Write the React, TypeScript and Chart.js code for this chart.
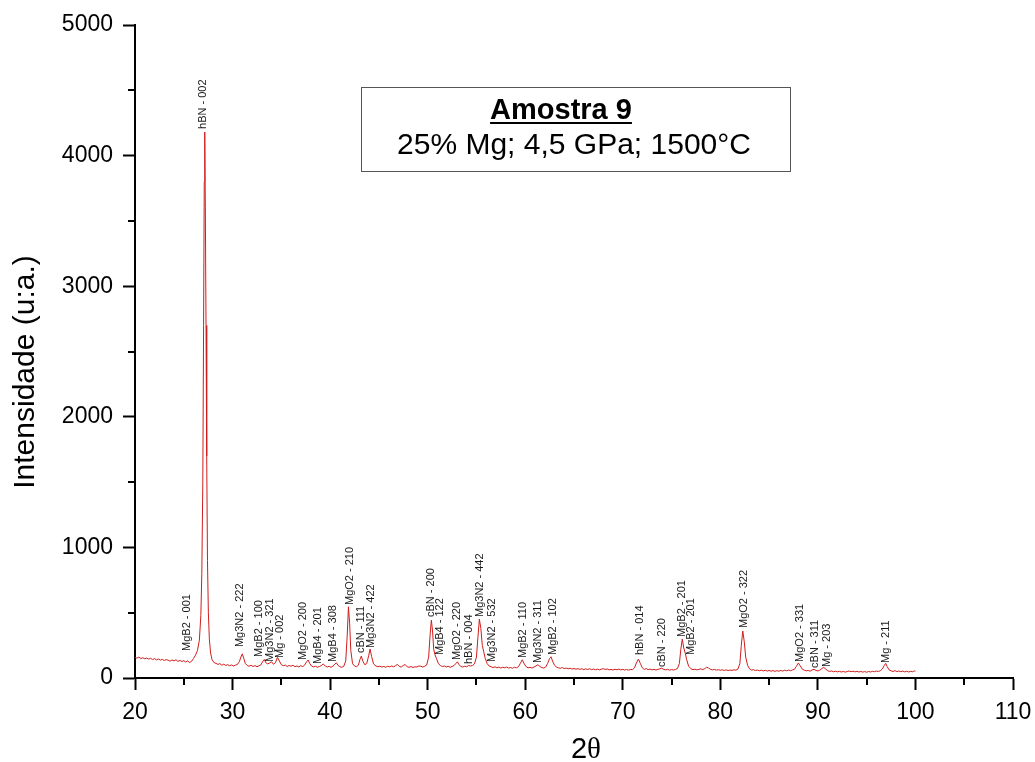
import React, { useEffect, useRef } from "react";
import { Chart, registerables } from "chart.js";

Chart.register(...registerables);

// Diffractogram: 2θ (degrees) and measured intensity (u.a.)
const twoTheta: number[] = [
  20.0, 20.2, 20.4, 20.6, 20.8, 21.0, 21.2, 21.4, 21.6, 21.8, 22.0, 22.2, 22.4, 22.6, 22.8,
  23.0, 23.2, 23.4, 23.6, 23.8, 24.0, 24.2, 24.4, 24.6, 24.8, 25.0, 25.2, 25.4, 25.6, 25.8,
  26.0, 26.2, 26.4, 26.6, 26.75, 26.85, 26.95, 27.03, 27.1, 27.15, 27.21, 27.28, 27.35, 27.43, 27.52,
  27.62, 27.75, 27.9, 28.1, 28.3, 28.5, 28.7, 28.9, 29.1, 29.3, 29.5, 29.7, 29.9, 30.1, 30.3,
  30.5, 30.7, 30.85, 31.0, 31.15, 31.3, 31.5, 31.7, 31.9, 32.1, 32.3, 32.5, 32.7, 32.9, 33.1,
  33.25, 33.4, 33.6, 33.8, 34.0, 34.2, 34.4, 34.6, 34.8, 35.0, 35.2, 35.4, 35.6, 35.8, 36.0,
  36.2, 36.4, 36.6, 36.8, 37.0, 37.2, 37.4, 37.6, 37.75, 37.9, 38.1, 38.3, 38.5, 38.7, 38.9,
  39.1, 39.3, 39.5, 39.7, 39.9, 40.1, 40.3, 40.5, 40.65, 40.8, 41.0, 41.2, 41.4, 41.6, 41.75,
  41.88, 42.0, 42.12, 42.3, 42.5, 42.7, 42.9, 43.05, 43.2, 43.35, 43.55, 43.75, 43.95, 44.1, 44.25,
  44.45, 44.7, 44.9, 45.1, 45.3, 45.5, 45.7, 45.9, 46.1, 46.3, 46.5, 46.7, 46.9, 47.1, 47.3,
  47.5, 47.7, 47.9, 48.1, 48.3, 48.5, 48.7, 48.9, 49.1, 49.3, 49.5, 49.7, 49.9, 50.1, 50.25,
  50.38, 50.5, 50.62, 50.75, 50.9, 51.1, 51.3, 51.5, 51.7, 51.9, 52.1, 52.3, 52.5, 52.7, 52.9,
  53.05, 53.2, 53.4, 53.6, 53.8, 54.0, 54.2, 54.4, 54.6, 54.8, 55.0, 55.15, 55.3, 55.45, 55.6,
  55.75, 55.9, 56.1, 56.3, 56.5, 56.7, 56.9, 57.1, 57.3, 57.5, 57.7, 57.9, 58.1, 58.3, 58.5,
  58.7, 58.9, 59.1, 59.3, 59.5, 59.7, 59.9, 60.1, 60.3, 60.5, 60.7, 60.9, 61.1, 61.3, 61.5,
  61.7, 61.9, 62.1, 62.3, 62.5, 62.65, 62.8, 63.0, 63.2, 63.4, 63.6, 63.8, 64.0, 64.2, 64.4,
  64.6, 64.8, 65.0, 65.2, 65.4, 65.6, 65.8, 66.0, 66.2, 66.4, 66.6, 66.8, 67.0, 67.2, 67.4,
  67.6, 67.8, 68.0, 68.2, 68.4, 68.6, 68.8, 69.0, 69.2, 69.4, 69.6, 69.8, 70.0, 70.2, 70.4,
  70.6, 70.8, 71.0, 71.2, 71.4, 71.6, 71.8, 72.0, 72.2, 72.4, 72.6, 72.8, 73.0, 73.2, 73.4,
  73.6, 73.8, 74.0, 74.2, 74.4, 74.6, 74.8, 75.0, 75.2, 75.4, 75.6, 75.8, 75.95, 76.1, 76.25,
  76.4, 76.55, 76.75, 77.0, 77.2, 77.4, 77.6, 77.8, 78.0, 78.2, 78.4, 78.6, 78.8, 79.0, 79.2,
  79.4, 79.6, 79.8, 80.0, 80.2, 80.4, 80.6, 80.8, 81.0, 81.2, 81.4, 81.6, 81.8, 82.0, 82.15,
  82.3, 82.45, 82.6, 82.8, 83.0, 83.2, 83.4, 83.6, 83.8, 84.0, 84.2, 84.4, 84.6, 84.8, 85.0,
  85.2, 85.4, 85.6, 85.8, 86.0, 86.2, 86.4, 86.6, 86.8, 87.0, 87.2, 87.4, 87.6, 87.8, 88.0,
  88.2, 88.4, 88.6, 88.8, 89.0, 89.2, 89.4, 89.6, 89.8, 90.0, 90.2, 90.4, 90.6, 90.8, 91.0,
  91.2, 91.4, 91.6, 91.8, 92.0, 92.2, 92.4, 92.6, 92.8, 93.0, 93.2, 93.4, 93.6, 93.8, 94.0,
  94.2, 94.4, 94.6, 94.8, 95.0, 95.2, 95.4, 95.6, 95.8, 96.0, 96.2, 96.4, 96.6, 96.8, 96.95,
  97.1, 97.3, 97.5, 97.7, 97.9, 98.1, 98.3, 98.5, 98.7, 98.9, 99.1, 99.3, 99.5, 99.7, 99.9,
  100.0,
];

const intensity: number[] = [
  158, 152, 160, 149, 155, 147, 153, 145, 151, 141, 148, 139, 146, 137, 143,
  134, 141, 136, 129, 138, 131, 140, 127, 135, 126, 133, 122, 131, 118, 128,
  150, 175, 210, 290, 480, 800, 1500, 2700, 3800, 4180, 3600, 2700, 1700, 900, 500,
  300, 190, 140, 118, 112, 104, 110, 98, 106, 96, 102, 94, 100, 92, 98,
  104, 125, 160, 185, 150, 112, 96, 90, 98, 88, 95, 86, 93, 100, 128,
  142, 118, 108, 115, 124, 105, 118, 158, 130, 102, 94, 99, 88, 96, 90,
  98, 86, 92, 84, 95, 87, 100, 125, 138, 112, 92, 85, 90, 82, 88,
  95, 108, 92, 84, 89, 82, 92, 108, 116, 98, 86, 82, 90, 130, 320,
  545, 420, 210, 110, 92, 86, 98, 140, 168, 130, 102, 110, 170, 222, 165,
  108, 92, 86, 90, 84, 88, 82, 90, 85, 92, 86, 94, 104, 88, 84,
  96, 103, 86, 82, 88, 80, 86, 84, 92, 90, 84, 90, 100, 160, 330,
  443, 360, 220, 178, 150, 110, 96, 88, 92, 84, 90, 82, 88, 95, 112,
  124, 104, 88, 84, 90, 86, 96, 92, 96, 108, 160, 310, 451, 380, 250,
  200, 150, 110, 92, 86, 80, 86, 78, 84, 76, 82, 78, 84, 76, 80,
  75, 82, 78, 86, 112, 140, 108, 86, 78, 82, 76, 84, 92, 102, 88,
  80, 76, 84, 112, 150, 162, 130, 98, 84, 78, 74, 80, 72, 76, 70,
  75, 68, 73, 67, 72, 66, 71, 64, 70, 65, 71, 64, 69, 63, 68,
  62, 67, 72, 65, 69, 62, 66, 61, 67, 63, 68, 62, 66, 61, 65,
  60, 66, 64, 78, 115, 145, 112, 78, 66, 72, 64, 68, 62, 67, 61,
  66, 70, 75, 66, 62, 66, 60, 65, 61, 66, 72, 110, 220, 298, 230,
  192, 140, 90, 70, 64, 68, 62, 66, 70, 64, 72, 82, 76, 66, 62,
  66, 60, 64, 59, 63, 58, 62, 57, 61, 58, 63, 60, 68, 110, 250,
  360, 280, 160, 96, 70, 60, 64, 57, 61, 55, 60, 54, 59, 53, 58,
  52, 57, 51, 56, 52, 58, 53, 60, 55, 61, 56, 62, 66, 90, 115,
  92, 68, 60, 55, 58, 52, 62, 66, 58, 54, 60, 72, 82, 68, 56,
  50, 54, 48, 52, 47, 51, 46, 50, 45, 49, 54, 48, 52, 47, 51,
  46, 50, 45, 49, 44, 50, 46, 51, 48, 53, 50, 56, 68, 95, 112,
  88, 62, 55, 50, 56, 49, 54, 48, 53, 47, 52, 46, 51, 48, 54,
  52,
];

// Phase / reflection annotations: label, 2θ position and intensity where the label starts
const peakNames: string[] = [
  "MgB2 - 001", "hBN - 002", "Mg3N2 - 222", "MgB2 - 100", "Mg3N2 - 321", "Mg - 002",
  "MgO2 - 200", "MgB4 - 201", "MgB4 - 308", "MgO2 - 210", "cBN - 111", "Mg3N2 - 422",
  "cBN - 200", "MgB4 - 122", "MgO2 - 220", "hBN - 004", "Mg3N2 - 442", "Mg3N2 - 532",
  "MgB2 - 110", "Mg3N2 - 311", "MgB2 - 102", "hBN - 014", "cBN - 220", "MgB2 - 201",
  "MgB2 - 201", "MgO2 - 322", "MgO2 - 331", "cBN - 311", "Mg - 203", "Mg - 211",
];
const peakTheta: number[] = [
  25.34, 26.98, 30.78, 32.73, 33.85, 34.88,
  37.24, 38.78, 40.32, 42.06, 43.19, 44.22,
  50.38, 51.30, 53.05, 54.28, 55.41, 56.64,
  59.72, 61.26, 62.80, 71.72, 73.98, 76.03,
  76.96, 82.40, 88.14, 89.68, 90.91, 96.97,
];
const peakLabelAt: number[] = [
  207, 4204, 237, 161, 123, 153,
  138, 107, 123, 559, 191, 230,
  467, 176, 138, 107, 467, 123,
  153, 115, 176, 176, 84, 314,
  176, 383, 123, 77, 84, 115,
];

const xTickValues: number[] = [20, 30, 40, 50, 60, 70, 80, 90, 100, 110];
const yTickValues: number[] = [0, 1000, 2000, 3000, 4000, 5000];

const sampleTitle = "Amostra 9";
const sampleConditions = "25% Mg; 4,5 GPa; 1500°C";
const yAxisTitle = "Intensidade (u:a.)";

const SANS = '"Liberation Sans", Arial, sans-serif';
const SERIF = '"Liberation Serif", "DejaVu Serif", serif';

const decorations = {
  id: "xrdDecorations",
  afterDraw(chart: any) {
    const { ctx, chartArea, scales } = chart;
    const xs = scales.x;
    const ys = scales.y;
    ctx.save();

    // minor ticks halfway between the major ones
    ctx.strokeStyle = "#000";
    ctx.lineWidth = 2;
    ctx.beginPath();
    for (let i = 0; i < yTickValues.length - 1; i++) {
      const v = (yTickValues[i] + yTickValues[i + 1]) / 2;
      const py = Math.round(ys.getPixelForValue(v));
      ctx.moveTo(chartArea.left - 7, py);
      ctx.lineTo(chartArea.left, py);
    }
    for (let i = 0; i < xTickValues.length - 1; i++) {
      const v = (xTickValues[i] + xTickValues[i + 1]) / 2;
      const px = Math.round(xs.getPixelForValue(v));
      ctx.moveTo(px, chartArea.bottom);
      ctx.lineTo(px, chartArea.bottom + 7);
    }
    ctx.stroke();

    // reflection labels, written vertically upwards
    ctx.fillStyle = "#1a1a1a";
    ctx.font = `11px ${SANS}`;
    ctx.textAlign = "left";
    ctx.textBaseline = "middle";
    for (let i = 0; i < peakNames.length; i++) {
      const px = xs.getPixelForValue(peakTheta[i]);
      const py = ys.getPixelForValue(peakLabelAt[i]);
      ctx.save();
      ctx.translate(px, py);
      ctx.rotate(-Math.PI / 2);
      ctx.fillText(peakNames[i], 0, 0);
      ctx.restore();
    }

    // sample box
    ctx.strokeStyle = "#555";
    ctx.lineWidth = 1;
    ctx.strokeRect(361.5, 87.5, 429, 84);
    ctx.fillStyle = "#000";
    ctx.textAlign = "center";
    ctx.textBaseline = "alphabetic";
    ctx.font = `bold 29px ${SANS}`;
    ctx.fillText(sampleTitle, 561, 119);
    const tw = ctx.measureText(sampleTitle).width;
    ctx.fillRect(561 - tw / 2, 122, tw, 2);
    ctx.font = `30px ${SANS}`;
    ctx.fillText(sampleConditions, 574, 154);

    // y axis title
    ctx.save();
    ctx.translate(26, 372);
    ctx.rotate(-Math.PI / 2);
    ctx.textAlign = "center";
    ctx.textBaseline = "middle";
    ctx.font = `30px ${SANS}`;
    ctx.fillText(yAxisTitle, 0, 0);
    ctx.restore();

    // x axis title: "2" in sans, theta in serif
    ctx.textAlign = "left";
    ctx.textBaseline = "alphabetic";
    ctx.font = `29px ${SANS}`;
    const w2 = ctx.measureText("2").width;
    ctx.font = `29px ${SERIF}`;
    const wt = ctx.measureText("θ").width;
    const startX = 586 - (w2 + wt) / 2;
    ctx.font = `29px ${SANS}`;
    ctx.fillText("2", startX, 758);
    ctx.font = `29px ${SERIF}`;
    ctx.fillText("θ", startX + w2, 758);

    ctx.restore();
  },
};

export default function App() {
  const canvasRef = useRef<HTMLCanvasElement | null>(null);

  useEffect(() => {
    document.body.style.margin = "0";
    const canvas = canvasRef.current;
    if (!canvas) return;
    const points = twoTheta.map((t, i) => ({ x: t, y: intensity[i] }));
    const chart = new Chart(canvas, {
      type: "line",
      data: {
        datasets: [
          {
            data: points,
            borderColor: "#d01c1c",
            borderWidth: 1,
            pointRadius: 0,
            tension: 0,
            fill: false,
          },
        ],
      },
      options: {
        responsive: false,
        animation: false,
        devicePixelRatio: 1,
        layout: { padding: { top: 25, right: 22, bottom: 0, left: 0 } },
        plugins: {
          legend: { display: false },
          tooltip: { enabled: false },
          title: { display: false },
        },
        scales: {
          x: {
            type: "linear",
            min: 20,
            max: 110,
            afterFit: (scale: any) => {
              scale.height = 84;
              scale.paddingLeft = 0;
              scale.paddingRight = 0;
            },
            afterBuildTicks: (scale: any) => {
              scale.ticks = xTickValues.map((v) => ({ value: v }));
            },
            grid: {
              drawOnChartArea: false,
              drawTicks: true,
              tickLength: 12,
              tickWidth: 2,
              tickColor: "#000",
              color: "#000",
            },
            border: { display: true, color: "#000", width: 2 },
            ticks: {
              color: "#000",
              padding: 9,
              maxRotation: 0,
              font: { family: SANS, size: 23 },
            },
          },
          y: {
            type: "linear",
            min: 0,
            max: 5000,
            afterFit: (scale: any) => {
              scale.width = 135;
              scale.paddingTop = 0;
              scale.paddingBottom = 0;
            },
            afterBuildTicks: (scale: any) => {
              scale.ticks = yTickValues.map((v) => ({ value: v }));
            },
            grid: {
              drawOnChartArea: false,
              drawTicks: true,
              tickLength: 12,
              tickWidth: 2,
              tickColor: "#000",
              color: "#000",
            },
            border: { display: true, color: "#000", width: 2 },
            ticks: {
              color: "#000",
              padding: 10,
              font: { family: SANS, size: 23 },
              callback: (v: any) => String(v),
            },
          },
        },
      },
      plugins: [decorations],
    });
    return () => chart.destroy();
  }, []);

  return (
    <div style={{ position: "absolute", left: 0, top: 0, width: 1035, height: 762, background: "#fff" }}>
      <canvas ref={canvasRef} width={1035} height={762} />
    </div>
  );
}
